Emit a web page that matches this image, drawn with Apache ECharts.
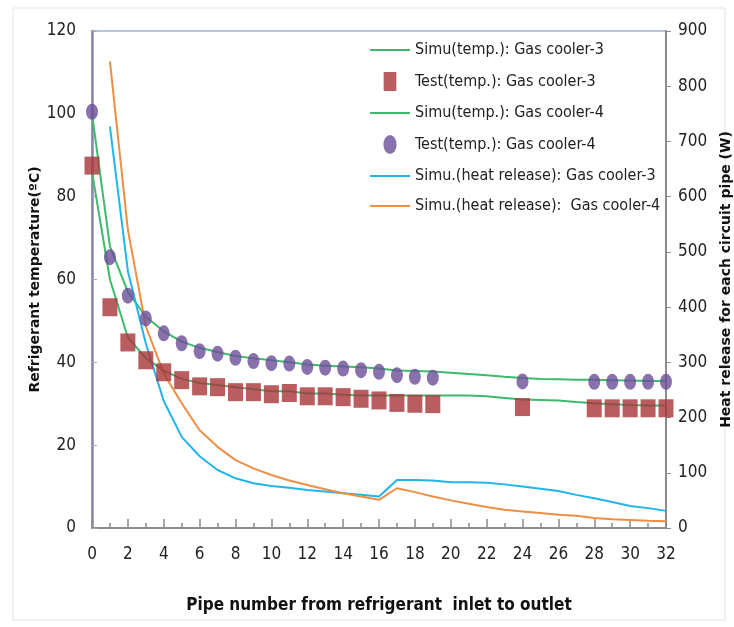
<!DOCTYPE html>
<html><head><meta charset="utf-8">
<script src="https://cdn.jsdelivr.net/npm/echarts@6/dist/echarts.min.js"></script>
<style>html,body{margin:0;padding:0;background:#fff}#c{width:734px;height:627px}</style>
</head><body><div id="c"></div>
<script>
var pipes = [0,1,2,3,4,5,6,7,8,9,10,11,12,13,14,15,16,17,18,19,20,21,22,23,24,25,26,27,28,29,30,31,32];
var simuTempGC3 = [86,60,46,41,38,36,35,34.5,34,33.5,33,33,32.5,32.5,32.2,32,32,32,32,32,32,32,31.8,31.4,31,30.9,30.8,30.4,30.1,29.9,29.7,29.6,29.6];
var simuTempGC4 = [100,68,57,51,47.5,45,43.5,42.5,41.5,41,40.5,40,39.5,39.2,39,38.8,38.5,38,37.9,37.8,37.5,37.2,36.9,36.5,36.2,36,35.9,35.8,35.8,35.7,35.6,35.5,35.5];
var testPipes = [0,1,2,3,4,5,6,7,8,9,10,11,12,13,14,15,16,17,18,19,24,28,29,30,31,32];
var testTempGC3 = [87.5,53.3,44.8,40.5,37.6,35.7,34.2,34,32.8,32.8,32.3,32.6,31.8,31.8,31.6,31.2,30.8,30.2,30,29.9,29.2,28.9,28.9,28.9,28.9,28.9];
var testTempGC4 = [100.5,65.4,56.1,50.6,47,44.6,42.7,42.1,41.1,40.3,39.8,39.7,38.9,38.7,38.5,38.1,37.7,36.9,36.5,36.3,35.4,35.3,35.3,35.3,35.3,35.3];
var heatPipes = [1,2,3,4,5,6,7,8,9,10,11,12,13,14,15,16,17,18,19,20,21,22,23,24,25,26,27,28,29,30,31,32];
var heatGC3 = [727,465,334,230,165,130,105,90,81,76,73,69,66,63,60,57,87,87,86,83,83,82,79,75,71,67,60,54,47,40,36,31];
var heatGC4 = [845,540,365,280,226,177,147,123,108,96,86,78,70,63,57,51,72,65,57,50,44,38,33,30,27,24,22,18,16,14.5,13,12];
var xTicks = [0,2,4,6,8,10,12,14,16,18,20,22,24,26,28,30,32];
var leftTicks = [0,20,40,60,80,100,120];
var rightTicks = [0,100,200,300,400,500,600,700,800,900];

function pairs(xs, ys){ return xs.map(function(x,i){ return [x, ys[i]]; }); }

var FN = "'Liberation Sans Narrow','DejaVu Sans Condensed',sans-serif";
var chart = echarts.init(document.getElementById('c'));
chart.setOption({
  animation:false,
  backgroundColor:'#fff',
  graphic:[{type:'rect',shape:{x:13,y:8,width:712,height:612},style:{fill:'none',stroke:'#e4e4e4',lineWidth:1},silent:true}],
  grid:{left:92,right:68,top:31,bottom:99,outerBoundsMode:'none',containLabel:false,show:true,borderColor:'#9fb3cf',borderWidth:1.5,backgroundColor:'transparent'},
  legend:{
    orient:'vertical', left:365, top:37, itemGap:14, itemWidth:40, itemHeight:19,
    textStyle:{fontFamily:FN,fontSize:16,color:'#222'},
    data:[
      {name:'Simu(temp.): Gas cooler-3',icon:'path://M0,9 L40,9 L40,11 L0,11 Z'},
      {name:'Test(temp.): Gas cooler-3',icon:'path://M14,1 L26,1 L26,19 L14,19 Z'},
      {name:'Simu(temp.): Gas cooler-4',icon:'path://M0,9 L40,9 L40,11 L0,11 Z'},
      {name:'Test(temp.): Gas cooler-4',icon:'path://M20,3 A4.5,6.5 0 1 0 20.01,3 Z'},
      {name:'Simu.(heat release): Gas cooler-3',icon:'path://M0,9 L40,9 L40,11 L0,11 Z'},
      {name:'Simu.(heat release):  Gas cooler-4',icon:'path://M0,9 L40,9 L40,11 L0,11 Z'}
    ]
  },
  xAxis:{
    type:'value', min:0, max:32, interval:2,
    name:'Pipe number from refrigerant  inlet to outlet', nameLocation:'middle', nameGap:69, nameMoveOverlap:false,
    nameTextStyle:{fontFamily:FN,fontSize:17,fontWeight:'bold',color:'#111'},
    axisLine:{lineStyle:{color:'#8c8c8c',width:2}},
    axisTick:{inside:true,length:9,lineStyle:{color:'#8c8c8c',width:1.5}},
    minorTick:{show:true,splitNumber:2,length:5,lineStyle:{color:'#8c8c8c',width:1.5}},
    axisLabel:{fontFamily:FN,fontSize:17,color:'#222',margin:18,
      formatter:function(v){ return xTicks.indexOf(v)>=0 ? String(v) : ''; }},
    splitLine:{show:false}
  },
  yAxis:[
    {type:'value', min:0, max:120, interval:20, position:'left',
     name:'Refrigerant temperature(ºC)', nameLocation:'middle', nameGap:50, nameRotate:90, nameMoveOverlap:false,
     nameTextStyle:{fontFamily:"'DejaVu Sans',sans-serif",fontSize:14,fontWeight:'bold',color:'#111'},
     axisLine:{show:true,lineStyle:{color:'#8a88a8',width:2.5}},
     axisTick:{show:true,inside:true,length:5,lineStyle:{color:'#aaa'}},
     axisLabel:{fontFamily:FN,fontSize:17,color:'#222',margin:16,
       formatter:function(v){ return leftTicks.indexOf(v)>=0 ? String(v) : ''; }},
     splitLine:{show:false}},
    {type:'value', min:0, max:900, interval:100, position:'right',
     name:'Heat release for each circuit pipe (W)', nameLocation:'middle', nameGap:53, nameRotate:90, nameMoveOverlap:false,
     nameTextStyle:{fontFamily:"'DejaVu Sans',sans-serif",fontSize:14,fontWeight:'bold',color:'#111'},
     axisLine:{show:true,lineStyle:{color:'#8c8c8c',width:2}},
     axisTick:{show:true,inside:false,length:5,lineStyle:{color:'#8c8c8c'}},
     axisLabel:{fontFamily:FN,fontSize:17,color:'#222',margin:12,
       formatter:function(v){ return rightTicks.indexOf(v)>=0 ? String(v) : ''; }},
     splitLine:{show:false}}
  ],
  series:[
    {name:'Simu(temp.): Gas cooler-3',type:'line',yAxisIndex:0,data:pairs(pipes,simuTempGC3),symbol:'none',
     lineStyle:{color:'#3dba6a',width:2},itemStyle:{color:'#3dba6a'},z:2},
    {name:'Simu(temp.): Gas cooler-4',type:'line',yAxisIndex:0,data:pairs(pipes,simuTempGC4),symbol:'none',
     lineStyle:{color:'#3dba6a',width:2},itemStyle:{color:'#3dba6a'},z:2},
    {name:'Simu.(heat release): Gas cooler-3',type:'line',yAxisIndex:1,data:pairs(heatPipes,heatGC3),symbol:'none',
     lineStyle:{color:'#22b4ec',width:2},itemStyle:{color:'#22b4ec'},z:2},
    {name:'Simu.(heat release):  Gas cooler-4',type:'line',yAxisIndex:1,data:pairs(heatPipes,heatGC4),symbol:'none',
     lineStyle:{color:'#ee8f45',width:2},itemStyle:{color:'#ee8f45'},z:2},
    {name:'Test(temp.): Gas cooler-3',type:'scatter',yAxisIndex:0,data:pairs(testPipes,testTempGC3),
     symbol:'rect',symbolSize:[15,18],itemStyle:{color:'#a8343a'},z:4},
    {name:'Test(temp.): Gas cooler-4',type:'scatter',yAxisIndex:0,data:pairs(testPipes,testTempGC4),
     symbol:'circle',symbolSize:[12,16],itemStyle:{color:'#6b4d98'},z:4}
  ]
});
</script></body></html>
